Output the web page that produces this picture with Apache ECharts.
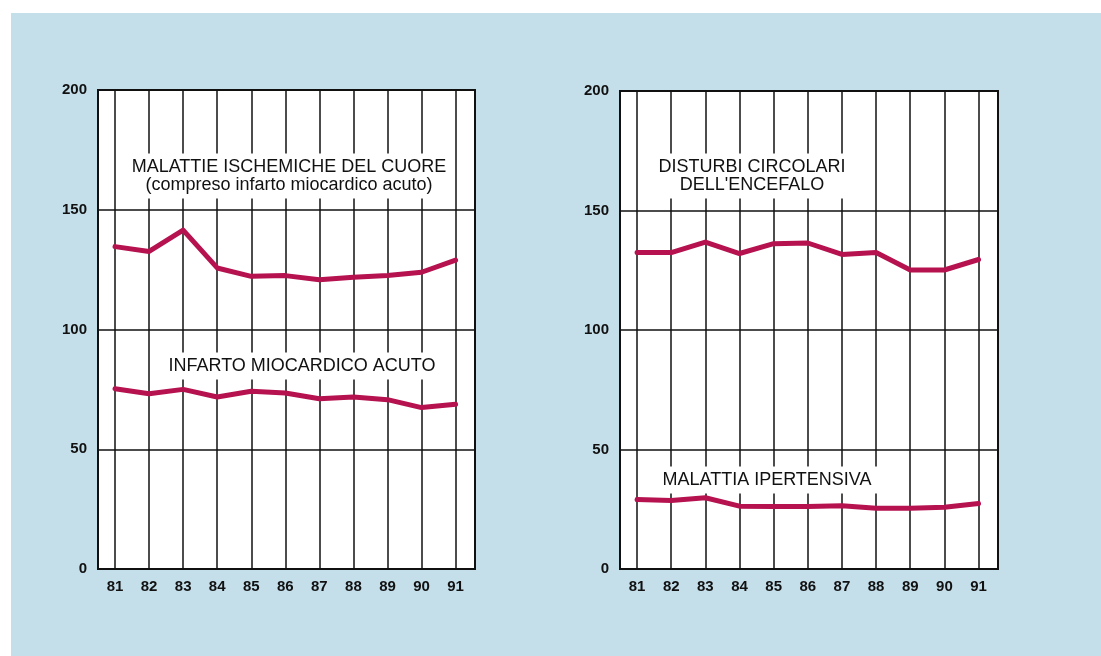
<!DOCTYPE html>
<html>
<head>
<meta charset="utf-8">
<script src="https://cdn.jsdelivr.net/npm/echarts@6/dist/echarts.min.js"></script>
<style>
html,body{margin:0;padding:0;background:#fff;}
#c{width:1101px;height:656px;}
</style>
</head>
<body>
<div id="c"></div>
<script>
const years = [81, 82, 83, 84, 85, 86, 87, 88, 89, 90, 91];
const yTicks = [0, 50, 100, 150, 200];
const ischemiche = [134.6, 132.6, 141.5, 125.7, 122.2, 122.5, 120.8, 121.8, 122.5, 123.9, 129.0];
const infarto = [75.3, 73.2, 75.0, 71.8, 74.2, 73.5, 71.1, 71.8, 70.7, 67.4, 68.8];
const encefalo = [132.4, 132.4, 136.8, 132.0, 136.1, 136.4, 131.6, 132.4, 125.1, 125.1, 129.5];
const ipertensiva = [29.1, 28.7, 29.8, 26.3, 26.1, 26.1, 26.5, 25.4, 25.4, 25.8, 27.4];

const LINE = '#b5124f';
const FONT = '"Liberation Sans", Arial, sans-serif';

function pairs(arr) { return years.map((y, i) => [y, arr[i]]); }

function xAx(gi) {
  return {
    type: 'value', gridIndex: gi, min: 80.5, max: 91.57,
    axisLine: { show: false },
    axisTick: { show: false, customValues: years },
    axisLabel: { customValues: years, color: '#111', fontFamily: FONT, fontSize: 15, fontWeight: 'bold', margin: 10 },
    splitLine: { show: true, lineStyle: { color: '#111', width: 1.5 } }
  };
}
function yAx(gi) {
  return {
    type: 'value', gridIndex: gi, min: 0, max: 200, interval: 50,
    axisLine: { show: false },
    axisTick: { show: false },
    axisLabel: { color: '#111', fontFamily: FONT, fontSize: 15, fontWeight: 'bold', margin: 11 },
    splitLine: { show: true, lineStyle: { color: '#111', width: 1.5 } }
  };
}
function ser(gi, arr, name) {
  return {
    type: 'line', name: name, xAxisIndex: gi, yAxisIndex: gi,
    data: pairs(arr), symbol: 'none', smooth: false,
    lineStyle: { color: LINE, width: 5, join: 'round', cap: 'round' },
    z: 5
  };
}
function label(x, y, s) {
  return { type: 'text', x: x, y: y, z: 100, silent: true,
    style: { text: s, fill: '#111', font: '18px ' + FONT, align: 'center', verticalAlign: 'middle',
      lineHeight: 18, backgroundColor: '#ffffff', padding: [5, 8, 4, 8] } };
}

const chart = echarts.init(document.getElementById('c'));
chart.setOption({
  backgroundColor: '#ffffff',
  animation: false,
  grid: [
    { left: 98, top: 90, width: 377, height: 479, show: true, backgroundColor: '#ffffff', borderColor: '#111', borderWidth: 2 },
    { left: 620, top: 91, width: 378, height: 478, show: true, backgroundColor: '#ffffff', borderColor: '#111', borderWidth: 2 }
  ],
  xAxis: [xAx(0), xAx(1)],
  yAxis: [yAx(0), yAx(1)],
  series: [
    ser(0, ischemiche, 'Malattie ischemiche del cuore'),
    ser(0, infarto, 'Infarto miocardico acuto'),
    ser(1, encefalo, "Disturbi circolari dell'encefalo"),
    ser(1, ipertensiva, 'Malattia ipertensiva')
  ],
  graphic: [
    { type: 'rect', z: -10, silent: true, shape: { x: 11, y: 13, width: 1090, height: 643 }, style: { fill: '#c4deea' } },
    label(289, 176, 'MALATTIE ISCHEMICHE DEL CUORE\n(compreso infarto miocardico acuto)'),
    label(302, 366, 'INFARTO MIOCARDICO ACUTO'),
    label(752, 176, "DISTURBI CIRCOLARI\nDELL'ENCEFALO"),
    label(767, 480, 'MALATTIA IPERTENSIVA')
  ]
});
</script>
</body>
</html>
